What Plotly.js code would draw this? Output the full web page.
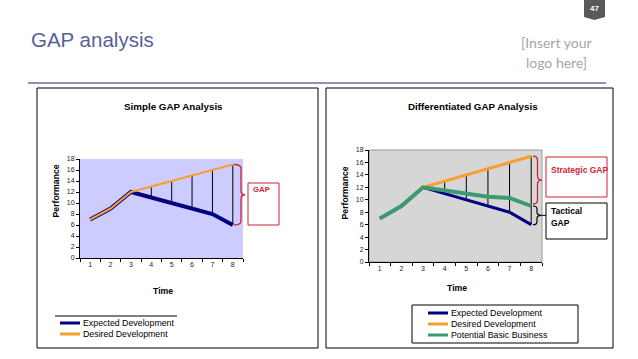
<!DOCTYPE html>
<html>
<head>
<meta charset="utf-8">
<script src="https://cdn.plot.ly/plotly-3.0.1.min.js"></script>
<style>html,body{margin:0;padding:0;background:#fff;}#chart{width:638px;height:359px;}</style>
</head>
<body>
<div id="chart"></div>
<script>
// ---- data ----
const time = [1, 2, 3, 4, 5, 6, 7, 8];
const expected = [7, 9, 12, 11, 10, 9, 8, 6];
const desired = [7, 9, 12, 13, 14, 15, 16, 17];
const potential = [7, 9, 12, 11.5, 11, 10.5, 10.3, 9];
const yTicks = [0, 2, 4, 6, 8, 10, 12, 14, 16, 18];
const seriesNames = ['Expected Development', 'Desired Development', 'Potential Basic Business'];
const gapStart = 4;
const pageTitle = 'GAP analysis';
const leftTitle = 'Simple GAP Analysis';
const rightTitle = 'Differentiated GAP Analysis';

// ---- styling ----
const W = 638, H = 359;
const FONT = 'Liberation Sans, Arial, sans-serif';
const NAVY = '#000080', ORANGE = '#f5a030', GREEN = '#3d9970', RED = '#d01f35';
const px = x => x / W;
const py = y => 1 - y / H;
const cats = time.map(String);

// plot-area geometry (pixels)
const L = {x0: 80, x1: 243, top: 159, bot: 258};
const R = {x0: 369, x1: 542, top: 150, bot: 262};
const yPix = (g, v) => g.bot - v / 18 * (g.bot - g.top);

function gapTrace(xa, ya) {
  const gx = [], gy = [];
  time.forEach((t, i) => {
    if (t >= gapStart) { gx.push(cats[i], cats[i], null); gy.push(desired[i], expected[i], null); }
  });
  return {x: gx, y: gy, xaxis: xa, yaxis: ya, mode: 'lines', line: {color: '#000', width: 1}, hoverinfo: 'skip'};
}

const traces = [
  gapTrace('x', 'y'),
  {x: cats, y: expected, xaxis: 'x', yaxis: 'y', mode: 'lines', line: {color: NAVY, width: 4}, name: seriesNames[0]},
  {x: cats, y: desired, xaxis: 'x', yaxis: 'y', mode: 'lines', line: {color: ORANGE, width: 2.2}, name: seriesNames[1]},
  gapTrace('x2', 'y2'),
  {x: cats, y: expected, xaxis: 'x2', yaxis: 'y2', mode: 'lines', line: {color: NAVY, width: 3}, name: seriesNames[0]},
  {x: cats, y: desired, xaxis: 'x2', yaxis: 'y2', mode: 'lines', line: {color: ORANGE, width: 3}, name: seriesNames[1]},
  {x: cats, y: potential, xaxis: 'x2', yaxis: 'y2', mode: 'lines', line: {color: GREEN, width: 4}, name: seriesNames[2]}
];

function xAxis(g) {
  return {domain: [px(g.x0), px(g.x1)], type: 'category', categoryorder: 'array', categoryarray: cats,
    range: [-0.5, 7.5], tickson: 'boundaries',
    ticks: 'outside', ticklen: 3, tickcolor: '#000', showline: true, linecolor: '#000', linewidth: 1,
    showgrid: false, zeroline: false, tickfont: {family: FONT, size: 7, color: '#222'}, fixedrange: true};
}
function yAxis(g, anchor) {
  return {domain: [py(g.bot), py(g.top)], range: [0, 18], tickvals: yTicks, anchor: anchor,
    ticks: 'outside', ticklen: 3, tickcolor: '#000', showline: true, linecolor: '#000', linewidth: 1,
    showgrid: false, zeroline: false, tickfont: {family: FONT, size: 7, color: '#222'}, fixedrange: true};
}

function bracePath(x0, x1, xt, yT, yB, r) {
  const yM = (yT + yB) / 2;
  const P = (x, y) => px(x) + ',' + py(y);
  return 'M' + P(x0, yT) + ' Q' + P(x1, yT) + ' ' + P(x1, yT + r) + ' L' + P(x1, yM - r) +
    ' Q' + P(x1, yM) + ' ' + P(xt, yM) + ' Q' + P(x1, yM) + ' ' + P(x1, yM + r) +
    ' L' + P(x1, yB - r) + ' Q' + P(x1, yB) + ' ' + P(x0, yB);
}
function rect(x0, y0, x1, y1, color, width, fill) {
  return {type: 'rect', xref: 'paper', yref: 'paper', x0: px(x0), x1: px(x1), y0: py(y1), y1: py(y0),
    line: {color: color, width: width}, fillcolor: fill || 'rgba(0,0,0,0)'};
}
function hline(x0, x1, y, color, width) {
  return {type: 'line', xref: 'paper', yref: 'paper', x0: px(x0), x1: px(x1), y0: py(y), y1: py(y), line: {color: color, width: width}};
}
function txt(x, y, text, size, color, opts) {
  return Object.assign({xref: 'paper', yref: 'paper', x: px(x), y: py(y), text: text, showarrow: false,
    xanchor: 'center', yanchor: 'middle', font: {family: FONT, size: size, color: color}}, opts || {});
}

const shapes = [
  // plot backgrounds
  {type: 'rect', xref: 'x domain', yref: 'y domain', x0: 0, x1: 1, y0: 0, y1: 1, fillcolor: '#ccccff', line: {width: 0}, layer: 'below'},
  {type: 'rect', xref: 'x2 domain', yref: 'y2 domain', x0: 0, x1: 1, y0: 0, y1: 1, fillcolor: '#d6d6d6', line: {color: '#9a9a9a', width: 1}, layer: 'below'},
  // header rule and badge
  hline(28, 606, 83, '#8c93b5', 2),
  {type: 'path', xref: 'paper', yref: 'paper', path: 'M' + px(584) + ',' + py(0) + ' L' + px(605) + ',' + py(0) + ' L' + px(605) + ',' + py(17) +
    ' L' + px(594.5) + ',' + py(20) + ' L' + px(584) + ',' + py(17) + ' Z', fillcolor: '#595959', line: {width: 0}},
  // panels
  rect(37, 88, 318, 348, '#000', 1),
  rect(326, 88, 613, 348, '#000', 1),
  // left braces and GAP box
  {type: 'path', xref: 'paper', yref: 'paper', path: bracePath(234, 241, 245, yPix(L, desired[7]), yPix(L, expected[7]), 4), line: {color: RED, width: 1.3}},
  rect(248, 183, 279, 225, RED, 1, '#fff'),
  // right braces and boxes
  {type: 'path', xref: 'paper', yref: 'paper', path: bracePath(533, 537.5, 542, yPix(R, desired[7]), yPix(R, potential[7]) - 2, 4), line: {color: RED, width: 1.3}},
  {type: 'path', xref: 'paper', yref: 'paper', path: bracePath(533, 537, 541, yPix(R, potential[7]), yPix(R, expected[7]), 3), line: {color: '#000', width: 1.2}},
  hline(541, 546, (yPix(R, potential[7]) + yPix(R, expected[7])) / 2, '#000', 1),
  rect(546, 157, 607, 197, RED, 1, '#fff'),
  rect(546, 203, 607, 239, '#000', 1, '#fff'),
  // left legend
  hline(55, 177, 316, '#000', 1),
  hline(60, 80, 323, NAVY, 3),
  hline(60, 80, 334, ORANGE, 3),
  // right legend
  rect(412, 305, 578, 343, '#000', 1),
  hline(428, 448, 313, NAVY, 3),
  hline(428, 448, 324, ORANGE, 3),
  hline(428, 448, 335, GREEN, 3)
];

const annotations = [
  txt(29, 40, pageTitle, 20.5, '#56629a', {xanchor: 'left'}),
  txt(556, 42, '[Insert your', 14, '#a6a6a6', {font: {family: 'Lato, sans-serif', size: 14, color: '#a6a6a6'}}),
  txt(556, 62, 'logo here]', 14, '#a6a6a6', {font: {family: 'Lato, sans-serif', size: 14, color: '#a6a6a6'}}),
  txt(594.5, 9, '<b>47</b>', 8, '#fff'),
  txt(173, 107, '<b>' + leftTitle + '</b>', 9.8, '#000'),
  txt(473, 106, '<b>' + rightTitle + '</b>', 9.8, '#000'),
  txt(55, 191.5, '<b>Performance</b>', 8.7, '#000', {textangle: -90}),
  txt(344, 193.5, '<b>Performance</b>', 8.7, '#000', {textangle: -90}),
  txt(163, 291, '<b>Time</b>', 8.7, '#000'),
  txt(456.5, 288, '<b>Time</b>', 8.7, '#000'),
  txt(251, 189, '<b>GAP</b>', 7.8, RED, {xanchor: 'left'}),
  txt(548.5, 170, '<b>Strategic GAP</b>', 8.5, RED, {xanchor: 'left'}),
  txt(549, 211, '<b>Tactical</b>', 8.5, '#000', {xanchor: 'left'}),
  txt(549, 223, '<b>GAP</b>', 8.5, '#000', {xanchor: 'left'}),
  txt(81, 323, seriesNames[0], 8.8, '#000', {xanchor: 'left'}),
  txt(81, 334, seriesNames[1], 8.8, '#000', {xanchor: 'left'}),
  txt(449, 313, seriesNames[0], 8.8, '#000', {xanchor: 'left'}),
  txt(449, 324, seriesNames[1], 8.8, '#000', {xanchor: 'left'}),
  txt(449, 335, seriesNames[2], 8.8, '#000', {xanchor: 'left'})
];

const layout = {
  width: W, height: H, margin: {l: 0, r: 0, t: 0, b: 0},
  paper_bgcolor: '#fff', plot_bgcolor: 'rgba(0,0,0,0)', showlegend: false,
  xaxis: Object.assign(xAxis(L), {anchor: 'y'}),
  yaxis: yAxis(L, 'x'),
  xaxis2: Object.assign(xAxis(R), {anchor: 'y2'}),
  yaxis2: yAxis(R, 'x2'),
  shapes: shapes, annotations: annotations
};

Plotly.newPlot('chart', traces, layout, {staticPlot: true, displayModeBar: false});
</script>
</body>
</html>
